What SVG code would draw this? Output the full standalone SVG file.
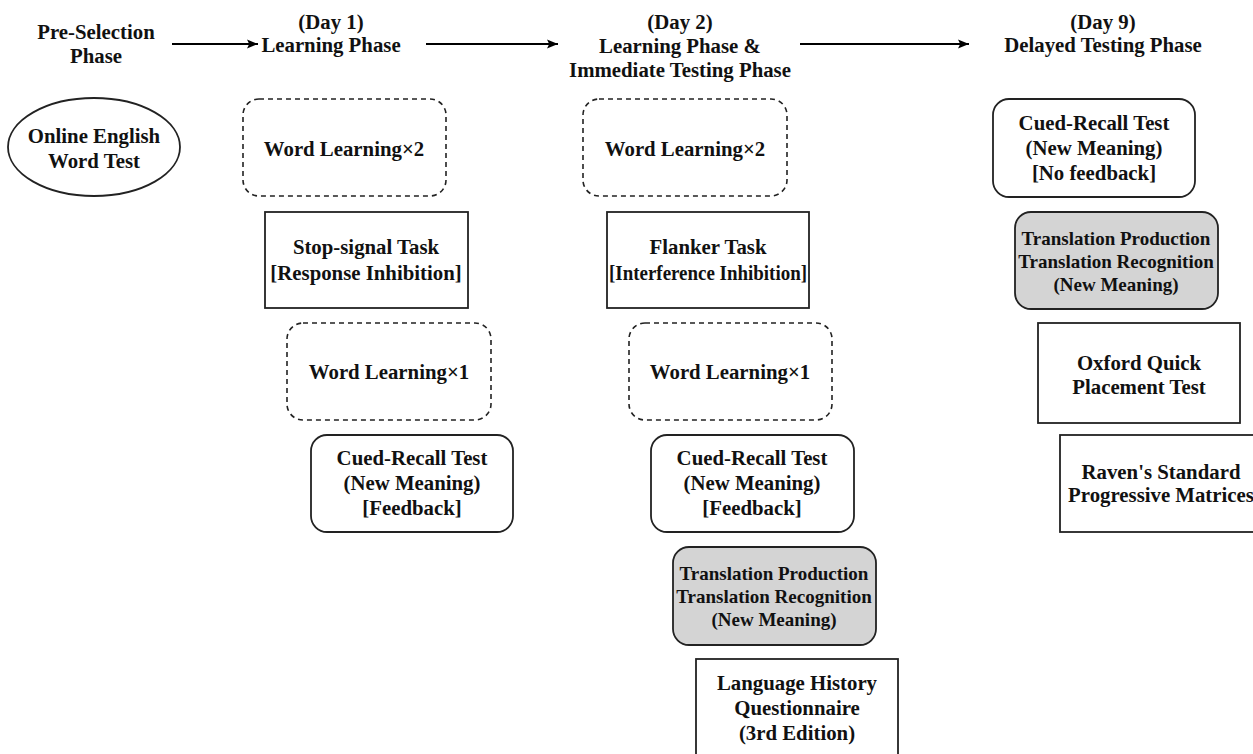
<svg xmlns="http://www.w3.org/2000/svg" width="1253" height="754" viewBox="0 0 1253 754">
<defs>
<marker id="ah" viewBox="0 0 10 10" refX="10" refY="5" markerWidth="11" markerHeight="11" markerUnits="userSpaceOnUse" orient="auto">
<path d="M0,1 L10,5 L0,9 L2,5 Z" fill="#000"/>
</marker>
<style>
text{font-family:"Liberation Serif","Times New Roman",serif;font-weight:bold;font-size:20.8px;fill:#111;text-anchor:middle}
.sm{font-size:19px}
.box{fill:#fff;stroke:#222;stroke-width:1.8}
.dash{fill:#fff;stroke:#222;stroke-width:1.6;stroke-dasharray:5 4}
.gray{fill:#d4d4d4;stroke:#222;stroke-width:1.8}
.conn{stroke:#000;stroke-width:2.2;fill:none;marker-end:url(#ah)}
</style>
</defs>
<rect width="1253" height="754" fill="#fff"/>

<g id="headers">
<text x="96" y="39">Pre-Selection</text>
<text x="96" y="63">Phase</text>
<text x="331" y="29">(Day 1)</text>
<text x="331" y="52">Learning Phase</text>
<text x="680" y="29">(Day 2)</text>
<text x="680" y="53">Learning Phase &amp;</text>
<text x="680" y="77">Immediate Testing Phase</text>
<text x="1103" y="29">(Day 9)</text>
<text x="1103" y="52">Delayed Testing Phase</text>
</g>

<g id="connectors">
<line class="conn" x1="172" y1="44" x2="258" y2="44"/>
<line class="conn" x1="426" y1="44" x2="558" y2="44"/>
<line class="conn" x1="800" y1="44" x2="969" y2="44"/>
</g>

<g id="online-test">
<ellipse class="box" cx="94" cy="147" rx="86" ry="49"/>
<text x="94" y="143">Online English</text>
<text x="94" y="168">Word Test</text>
</g>

<g id="d1-word2">
<rect class="dash" x="243" y="99" width="203" height="97" rx="16"/>
<text x="344" y="156">Word Learning×2</text>
</g>
<g id="d1-stop">
<rect class="box" x="265" y="212" width="203" height="96"/>
<text x="366" y="254">Stop-signal Task</text>
<text x="366" y="280">[Response Inhibition]</text>
</g>
<g id="d1-word1">
<rect class="dash" x="287" y="323" width="204" height="97" rx="16"/>
<text x="389" y="379">Word Learning×1</text>
</g>
<g id="d1-cued">
<rect class="box" x="311" y="435" width="202" height="97" rx="16"/>
<text x="412" y="465">Cued-Recall Test</text>
<text x="412" y="490">(New Meaning)</text>
<text x="412" y="515">[Feedback]</text>
</g>

<g id="d2-word2">
<rect class="dash" x="583" y="99" width="204" height="97" rx="16"/>
<text x="685" y="156">Word Learning×2</text>
</g>
<g id="d2-flanker">
<rect class="box" x="607" y="212" width="202" height="96"/>
<text x="708" y="254">Flanker Task</text>
<text x="708" y="280" textLength="198" lengthAdjust="spacingAndGlyphs">[Interference Inhibition]</text>
</g>
<g id="d2-word1">
<rect class="dash" x="629" y="323" width="203" height="97" rx="16"/>
<text x="730" y="379">Word Learning×1</text>
</g>
<g id="d2-cued">
<rect class="box" x="651" y="435" width="203" height="97" rx="16"/>
<text x="752" y="465">Cued-Recall Test</text>
<text x="752" y="490">(New Meaning)</text>
<text x="752" y="515">[Feedback]</text>
</g>
<g id="d2-translation">
<rect class="gray" x="673" y="547" width="203" height="98" rx="16"/>
<text class="sm" x="774" y="580">Translation Production</text>
<text class="sm" x="774" y="603">Translation Recognition</text>
<text class="sm" x="774" y="626">(New Meaning)</text>
</g>
<g id="d2-lhq">
<rect class="box" x="696" y="659" width="202" height="98"/>
<text x="797" y="690">Language History</text>
<text x="797" y="715">Questionnaire</text>
<text x="797" y="740">(3rd Edition)</text>
</g>

<g id="d9-cued">
<rect class="box" x="993" y="99" width="202" height="98" rx="16"/>
<text x="1094" y="130">Cued-Recall Test</text>
<text x="1094" y="155">(New Meaning)</text>
<text x="1094" y="180">[No feedback]</text>
</g>
<g id="d9-translation">
<rect class="gray" x="1015" y="212" width="203" height="97" rx="16"/>
<text class="sm" x="1116" y="245">Translation Production</text>
<text class="sm" x="1116" y="268">Translation Recognition</text>
<text class="sm" x="1116" y="291">(New Meaning)</text>
</g>
<g id="d9-oxford">
<rect class="box" x="1038" y="323" width="202" height="100"/>
<text x="1139" y="370">Oxford Quick</text>
<text x="1139" y="394">Placement Test</text>
</g>
<g id="d9-raven">
<rect class="box" x="1060" y="435" width="203" height="97"/>
<text x="1161" y="479">Raven's Standard</text>
<text x="1161" y="502">Progressive Matrices</text>
</g>
</svg>
